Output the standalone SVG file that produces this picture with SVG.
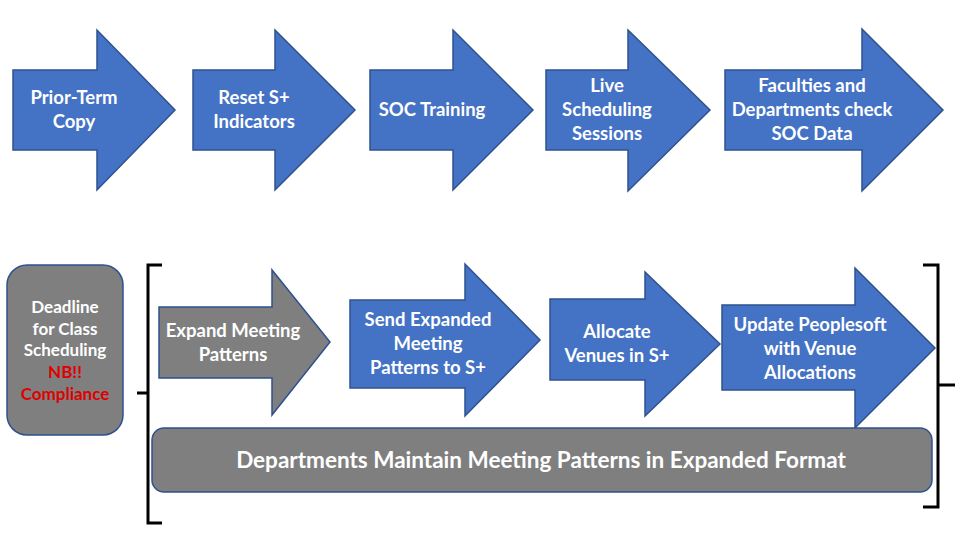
<svg xmlns="http://www.w3.org/2000/svg" width="960" height="540" viewBox="0 0 960 540">
<style>
.blue{fill:#4472C4;stroke:#2F528F;stroke-width:1.5}
.gray{fill:#7F7F7F;stroke:#2F528F;stroke-width:1.5}
.t{font-family:Lato,"Liberation Sans",sans-serif;font-weight:bold;font-size:18.5px;fill:#fff;text-anchor:middle}
.s{font-size:17px}
.red{fill:#E00000}
.br{fill:none;stroke:#000;stroke-width:3}
</style>
<rect width="960" height="540" fill="#fff"/>
<g id="n1"><polygon class="blue" points="13,70 97,70 97,30 175,110 97,190 97,150 13,150"/>
<text class="t"><tspan x="74" y="104">Prior-Term</tspan><tspan x="74" y="128">Copy</tspan></text></g>
<g id="n2"><polygon class="blue" points="193,70 275,70 275,30 355,110 275,190 275,150 193,150"/>
<text class="t"><tspan x="254" y="104">Reset S+</tspan><tspan x="254" y="128">Indicators</tspan></text></g>
<g id="n3"><polygon class="blue" points="370,70 453,70 453,30 533,110 453,190 453,150 370,150"/>
<text class="t"><tspan x="432" y="116">SOC Training</tspan></text></g>
<g id="n4"><polygon class="blue" points="546,70 628,70 628,30 710,110 628,191 628,150 546,150"/>
<text class="t"><tspan x="607" y="92">Live</tspan><tspan x="607" y="116">Scheduling</tspan><tspan x="607" y="140">Sessions</tspan></text></g>
<g id="n5"><polygon class="blue" points="725,70 862,70 862,29 943,110 862,191 862,150 725,150"/>
<text class="t"><tspan x="812" y="92">Faculties and</tspan><tspan x="812" y="116">Departments check</tspan><tspan x="812" y="140">SOC Data</tspan></text></g>
<g id="n6"><rect class="gray" x="7" y="265" width="116" height="170" rx="20"/>
<text class="t s"><tspan x="65" y="313">Deadline</tspan><tspan x="65" y="335">for Class</tspan><tspan x="65" y="356">Scheduling</tspan><tspan class="red" x="65" y="378">NB!!</tspan><tspan class="red" x="65" y="400">Compliance</tspan></text></g>
<g id="n7"><polygon class="gray" points="159,307 272,307 272,270 330,342 272,415 272,378 159,378"/>
<text class="t"><tspan x="233" y="337">Expand Meeting</tspan><tspan x="233" y="361">Patterns</tspan></text></g>
<g id="n8"><polygon class="blue" points="350,300 465,300 465,264 540,340 465,416 465,388 350,388"/>
<text class="t"><tspan x="428" y="326">Send Expanded</tspan><tspan x="428" y="350">Meeting</tspan><tspan x="428" y="374">Patterns to S+</tspan></text></g>
<g id="n9"><polygon class="blue" points="550,299 645,299 645,272 720,344 645,416 645,380 550,380"/>
<text class="t"><tspan x="617" y="338">Allocate</tspan><tspan x="617" y="362">Venues in S+</tspan></text></g>
<g id="n10"><polygon class="blue" points="722,305 855,305 855,268 935,348 855,428 855,390 722,390"/>
<text class="t"><tspan x="810" y="331">Update Peoplesoft</tspan><tspan x="810" y="355">with Venue</tspan><tspan x="810" y="379">Allocations</tspan></text></g>
<g id="n11"><rect class="gray" x="152" y="428" width="780" height="64" rx="12"/>
<text class="t" x="541" y="468" style="font-size:22.5px">Departments Maintain Meeting Patterns in Expanded Format</text></g>
<g id="connectors">
<path class="br" d="M162,265 H148 V523 H162 M148,393 H137"/>
<path class="br" d="M923,265 H938 V507 H923 M938,385 H955"/>
</g>
</svg>
